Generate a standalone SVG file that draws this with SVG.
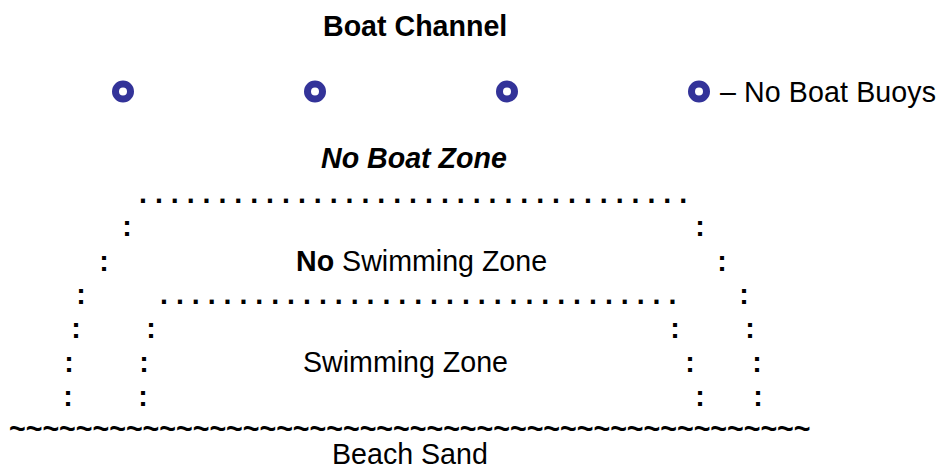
<svg xmlns="http://www.w3.org/2000/svg" width="945" height="476" viewBox="0 0 945 476">
<style>
text{font-family:"Liberation Sans",Arial,sans-serif;font-size:28.6px;fill:#000}
.b{font-weight:bold}
.bi{font-weight:bold;font-style:italic}
.c{font-weight:bold;text-anchor:middle}
.buoy{fill:none;stroke:#333399;stroke-width:7}
</style>
<rect width="945" height="476" fill="#fff"/>
<g id="title"><text class="b" x="323" y="36">Boat Channel</text></g>
<g id="buoys">
<circle class="buoy" cx="123" cy="91.5" r="7.5"/>
<circle class="buoy" cx="315" cy="91.5" r="7.5"/>
<circle class="buoy" cx="507" cy="91.5" r="7.5"/>
<circle class="buoy" cx="699" cy="91.5" r="7.5"/>
<text x="720" y="102" textLength="216" lengthAdjust="spacing">– No Boat Buoys</text>
</g>
<g id="no-boat-zone"><text class="bi" x="321" y="168">No Boat Zone</text></g>
<g id="outer-boundary">
<text class="b" x="139" y="203">. . . . . . . . . . . . . . . . . . . . . . . . . . . . . . . . . . .</text>
<text class="c" x="127" y="236">:</text>
<text class="c" x="104" y="271">:</text>
<text class="c" x="81" y="304">:</text>
<text class="c" x="76" y="338">:</text>
<text class="c" x="69" y="372">:</text>
<text class="c" x="68" y="406">:</text>
<text class="c" x="700" y="236">:</text>
<text class="c" x="722" y="271">:</text>
<text class="c" x="744" y="304">:</text>
<text class="c" x="750" y="338">:</text>
<text class="c" x="757" y="372">:</text>
<text class="c" x="758" y="406">:</text>
</g>
<g id="no-swimming-zone"><text x="296" y="271"><tspan class="b">No</tspan> Swimming Zone</text></g>
<g id="inner-boundary">
<text class="b" x="160" y="304">. . . . . . . . . . . . . . . . . . . . . . . . . . . . . . . . .</text>
<text class="c" x="151" y="338">:</text>
<text class="c" x="144" y="372">:</text>
<text class="c" x="143" y="406">:</text>
<text class="c" x="675" y="338">:</text>
<text class="c" x="690" y="372">:</text>
<text class="c" x="700" y="406">:</text>
</g>
<g id="swimming-zone"><text x="303" y="372">Swimming Zone</text></g>
<g id="shoreline"><text class="b" x="9" y="438">~~~~~~~~~~~~~~~~~~~~~~~~~~~~~~~~~~~~~~~~~~~~~~~~</text></g>
<g id="beach-sand"><text x="332" y="464">Beach Sand</text></g>
</svg>
